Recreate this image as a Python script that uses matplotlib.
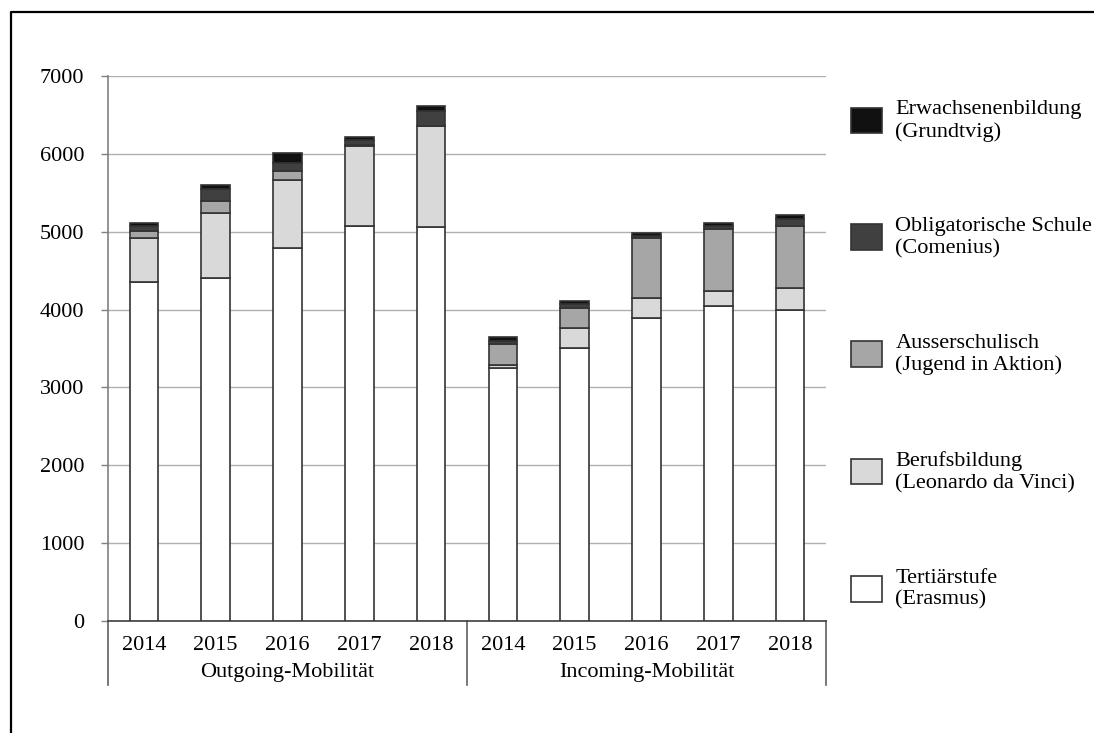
import numpy as np
import matplotlib
matplotlib.use("Agg")
import matplotlib.pyplot as plt
from matplotlib.lines import Line2D
from matplotlib.patches import Patch

plt.rcParams['font.family'] = ['Liberation Serif', 'DejaVu Serif']

years = ['2014', '2015', '2016', '2017', '2018']
groups = ['Outgoing-Mobilität', 'Incoming-Mobilität']

# Stacked values, bottom to top; first 5 = outgoing, last 5 = incoming.
tertiaer = [4360, 4400, 4785, 5075, 5055, 3245, 3510, 3895, 4050, 3990]
berufs = [560, 840, 876, 1027, 1300, 43, 255, 253, 192, 287]
ausser = [90, 155, 120, 10, 0, 270, 257, 766, 796, 792]
oblig = [60, 160, 103, 64, 197, 42, 47, 30, 30, 94]
erwachsen = [40, 43, 130, 38, 69, 44, 43, 43, 42, 47]

series = [
    ('Tertiärstufe\n(Erasmus)', tertiaer, '#ffffff'),
    ('Berufsbildung\n(Leonardo da Vinci)', berufs, '#d9d9d9'),
    ('Ausserschulisch\n(Jugend in Aktion)', ausser, '#a6a6a6'),
    ('Obligatorische Schule\n(Comenius)', oblig, '#404040'),
    ('Erwachsenenbildung\n(Grundtvig)', erwachsen, '#111111'),
]

W, H = 1094, 733
fig = plt.figure(figsize=(W / 100, H / 100), dpi=100)
ax = fig.add_axes([108 / W, 1 - 621 / H, (826 - 108) / W, (621 - 76) / H])

x = np.arange(len(tertiaer))
bottom = np.zeros(len(x))
handles = []
for label, vals, color in series:
    ax.bar(x, vals, width=0.4, bottom=bottom, color=color,
           edgecolor='#333333', linewidth=1.2, zorder=3)
    bottom += np.array(vals)
    handles.append(Patch(facecolor=color, edgecolor='#333333', linewidth=1.2, label=label))

ax.set_xlim(-0.5, 9.5)
ax.set_ylim(0, 7000)
ax.set_yticks(range(0, 7001, 1000))
ax.tick_params(axis='y', length=5, width=1, color='#808080', pad=12, labelsize=16)
ax.tick_params(axis='x', length=0, pad=11, labelsize=16)
ax.set_xticks(x)
ax.set_xticklabels(years * 2)
ax.yaxis.grid(True, color='#b0b0b0', linewidth=1.0, zorder=0)

for s in ['top', 'right']:
    ax.spines[s].set_visible(False)
ax.spines['left'].set_color('#808080')
ax.spines['left'].set_linewidth(1.2)
ax.spines['bottom'].set_color('#404040')
ax.spines['bottom'].set_linewidth(1.2)

# Group separators and labels below the axis.
trans = ax.get_xaxis_transform()
for xs in [-0.5, 4.5, 9.5]:
    ax.plot([xs, xs], [0, -64 / 545], transform=trans, color='#606060',
            linewidth=1.2, clip_on=False)
for i, g in enumerate(groups):
    ax.text(2 + 5 * i, -52 / 545, g, transform=trans, ha='center', va='center',
            fontsize=16)

# Legend, top entry first.
leg = fig.legend(handles[::-1], [h.get_label() for h in handles[::-1]],
                 loc='upper left', bbox_to_anchor=(842 / W, 1 - 91 / H),
                 frameon=False, fontsize=16, handlelength=1.4, handleheight=1.4,
                 labelspacing=3.4, handletextpad=0.6, borderaxespad=0)

# Outer frame (left and top edges).
fx = 11 / W
fy = 1 - 12 / H
fig.add_artist(Line2D([fx, fx, 1], [0, fy, fy], color='black', linewidth=1.6))

fig.savefig('out.png', dpi=100)
